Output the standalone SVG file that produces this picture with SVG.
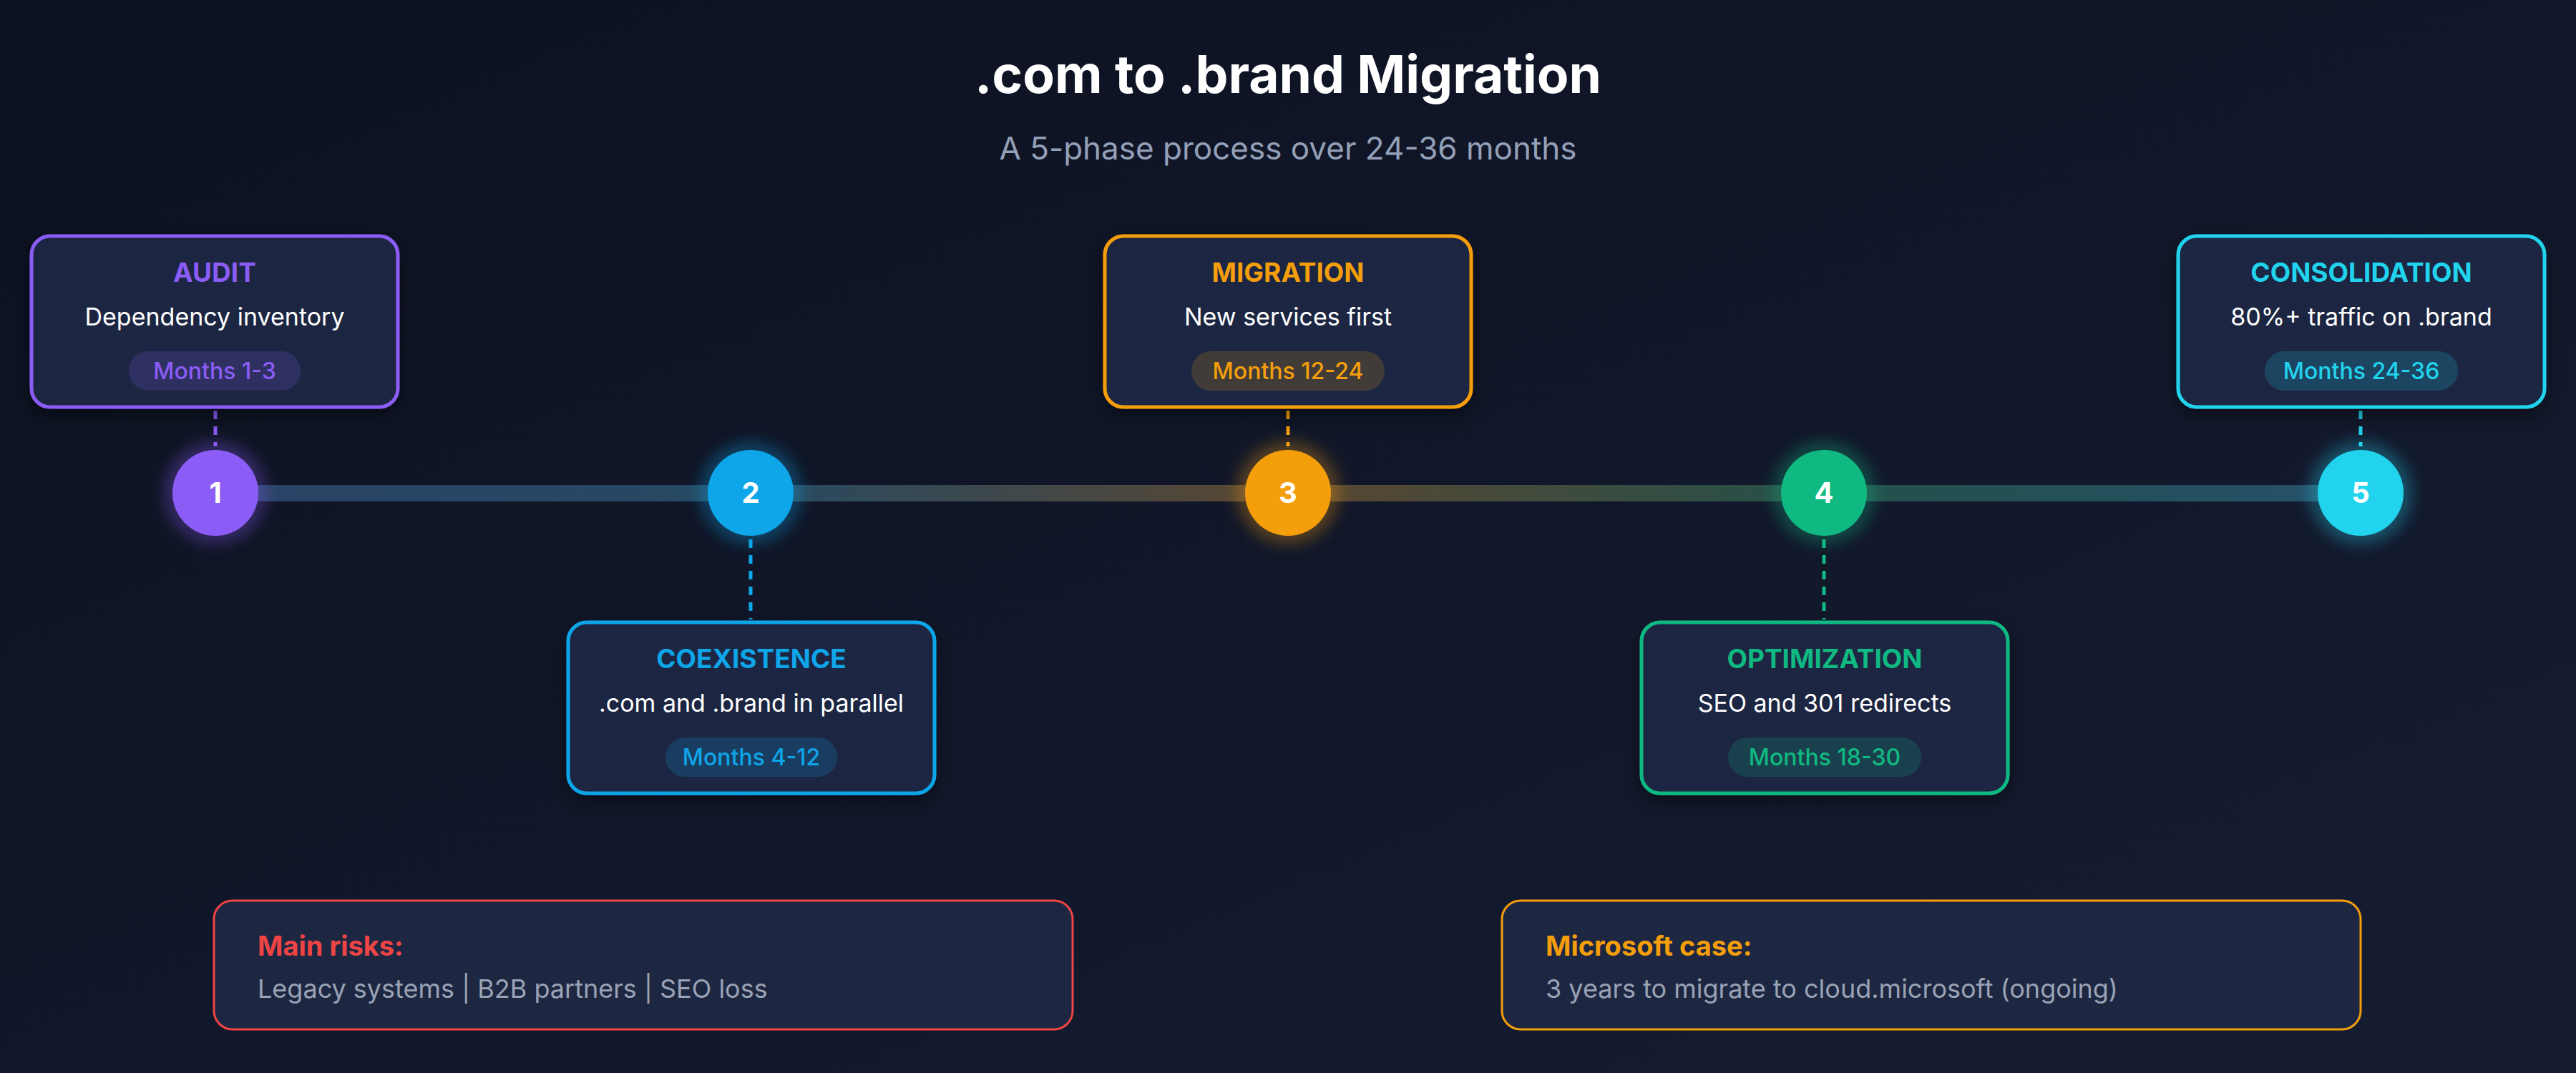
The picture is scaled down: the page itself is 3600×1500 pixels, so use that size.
<svg xmlns="http://www.w3.org/2000/svg" width="3600" height="1500" viewBox="0 0 3600 1500">
<defs>
<linearGradient id="bg" x1="0" y1="0" x2="1" y2="1">
<stop offset="0" stop-color="#0c1120"/><stop offset="1" stop-color="#161d33"/>
</linearGradient>
<linearGradient id="tl" x1="0" y1="0" x2="1" y2="0">
<stop offset="0" stop-color="#2a4266"/><stop offset="0.25" stop-color="#264a63"/><stop offset="0.5" stop-color="#5a4630"/><stop offset="0.75" stop-color="#24504a"/><stop offset="1" stop-color="#25506a"/>
</linearGradient>
<filter id="glow" x="-50%" y="-50%" width="200%" height="200%"><feGaussianBlur stdDeviation="10"/></filter>
<filter id="sh" x="-20%" y="-20%" width="140%" height="150%"><feDropShadow dx="0" dy="10" stdDeviation="14" flood-color="#000" flood-opacity="0.45"/></filter>
</defs>
<style>
text{font-family:Inter,"Noto Sans",sans-serif}
.box{fill:#1e2742;stroke-width:5}
.t{font-size:37px;font-weight:700;text-anchor:middle}
.d{font-size:34px;fill:#fff;text-anchor:middle}
.p{font-size:32px;font-weight:500;text-anchor:middle}
.n{font-size:40px;font-weight:700;fill:#fff;text-anchor:middle}
.dash{stroke-width:5;stroke-dasharray:12 10}
</style>
<rect width="3600" height="1500" fill="url(#bg)"/>
<text x="1800" y="130" font-size="73" font-weight="700" fill="#fff" text-anchor="middle">.com to .brand Migration</text>
<text x="1800" y="223" font-size="44" fill="#94a0b8" text-anchor="middle">A 5-phase process over 24-36 months</text>
<g id="connectors">
<rect x="301" y="678" width="2998" height="23" fill="url(#tl)"/>
<line class="dash" x1="301" y1="574" x2="301" y2="624" stroke="#8b5cf6"/>
<line class="dash" x1="1049" y1="754" x2="1049" y2="866" stroke="#0ea5e9"/>
<line class="dash" x1="1800" y1="574" x2="1800" y2="624" stroke="#f59e0b"/>
<line class="dash" x1="2549" y1="754" x2="2549" y2="866" stroke="#10b981"/>
<line class="dash" x1="3299" y1="574" x2="3299" y2="624" stroke="#22d3ee"/>
</g>
<g id="n1">
<circle cx="301" cy="689" r="72" fill="#8b5cf6" opacity="0.3" filter="url(#glow)"/>
<circle cx="301" cy="689" r="60" fill="#8b5cf6"/><text class="n" x="301" y="703">1</text>
<rect class="box" x="44" y="330" width="512" height="239" rx="26" stroke="#8b5cf6" filter="url(#sh)"/>
<text class="t" x="300" y="394" fill="#8b5cf6">AUDIT</text>
<text class="d" x="300" y="455">Dependency inventory</text>
<rect x="180" y="491" width="240" height="55" rx="27" fill="#8b5cf6" fill-opacity="0.18"/>
<text class="p" x="300" y="530" fill="#8b5cf6">Months 1-3</text>
</g>
<g id="n2">
<circle cx="1049" cy="689" r="72" fill="#0ea5e9" opacity="0.3" filter="url(#glow)"/>
<circle cx="1049" cy="689" r="60" fill="#0ea5e9"/><text class="n" x="1049" y="703">2</text>
<rect class="box" x="794" y="870" width="512" height="239" rx="26" stroke="#0ea5e9" filter="url(#sh)"/>
<text class="t" x="1050" y="934" fill="#0ea5e9">COEXISTENCE</text>
<text class="d" x="1050" y="995">.com and .brand in parallel</text>
<rect x="930" y="1031" width="240" height="55" rx="27" fill="#0ea5e9" fill-opacity="0.18"/>
<text class="p" x="1050" y="1070" fill="#0ea5e9">Months 4-12</text>
</g>
<g id="n3">
<circle cx="1800" cy="689" r="72" fill="#f59e0b" opacity="0.3" filter="url(#glow)"/>
<circle cx="1800" cy="689" r="60" fill="#f59e0b"/><text class="n" x="1800" y="703">3</text>
<rect class="box" x="1544" y="330" width="512" height="239" rx="26" stroke="#f59e0b" filter="url(#sh)"/>
<text class="t" x="1800" y="394" fill="#f59e0b">MIGRATION</text>
<text class="d" x="1800" y="455">New services first</text>
<rect x="1665" y="491" width="270" height="55" rx="27" fill="#f59e0b" fill-opacity="0.18"/>
<text class="p" x="1800" y="530" fill="#f59e0b">Months 12-24</text>
</g>
<g id="n4">
<circle cx="2549" cy="689" r="72" fill="#10b981" opacity="0.3" filter="url(#glow)"/>
<circle cx="2549" cy="689" r="60" fill="#10b981"/><text class="n" x="2549" y="703">4</text>
<rect class="box" x="2294" y="870" width="512" height="239" rx="26" stroke="#10b981" filter="url(#sh)"/>
<text class="t" x="2550" y="934" fill="#10b981">OPTIMIZATION</text>
<text class="d" x="2550" y="995">SEO and 301 redirects</text>
<rect x="2415" y="1031" width="270" height="55" rx="27" fill="#10b981" fill-opacity="0.18"/>
<text class="p" x="2550" y="1070" fill="#10b981">Months 18-30</text>
</g>
<g id="n5">
<circle cx="3299" cy="689" r="72" fill="#22d3ee" opacity="0.3" filter="url(#glow)"/>
<circle cx="3299" cy="689" r="60" fill="#22d3ee"/><text class="n" x="3299" y="703">5</text>
<rect class="box" x="3044" y="330" width="512" height="239" rx="26" stroke="#22d3ee" filter="url(#sh)"/>
<text class="t" x="3300" y="394" fill="#22d3ee">CONSOLIDATION</text>
<text class="d" x="3300" y="455">80%+ traffic on .brand</text>
<rect x="3165" y="491" width="270" height="55" rx="27" fill="#22d3ee" fill-opacity="0.18"/>
<text class="p" x="3300" y="530" fill="#22d3ee">Months 24-36</text>
</g>
<g id="risks">
<rect x="299" y="1259" width="1200" height="180" rx="26" fill="#1e2742" stroke="#ef4444" stroke-width="3"/>
<text x="360" y="1336" font-size="38" font-weight="700" fill="#ef4444">Main risks:</text>
<text x="360" y="1395" font-size="36" fill="#9aa3b5">Legacy systems | B2B partners | SEO loss</text>
</g>
<g id="microsoft">
<rect x="2099" y="1259" width="1200" height="180" rx="26" fill="#1e2742" stroke="#f59e0b" stroke-width="3"/>
<text x="2160" y="1336" font-size="38" font-weight="700" fill="#f59e0b">Microsoft case:</text>
<text x="2160" y="1395" font-size="36" fill="#9aa3b5">3 years to migrate to cloud.microsoft (ongoing)</text>
</g>
</svg>
